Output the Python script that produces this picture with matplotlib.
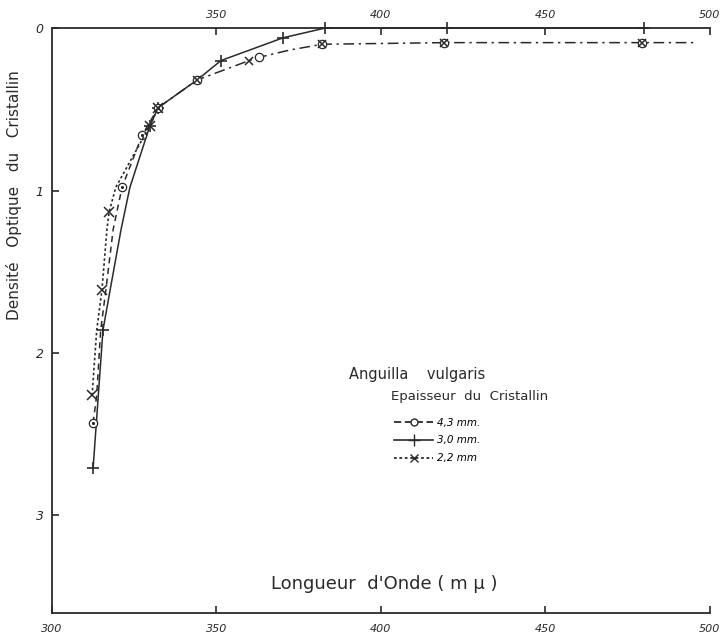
import matplotlib.pyplot as plt
from matplotlib.lines import Line2D

plt.rcParams['font.family'] = ['DejaVu Sans']

# 3.0 mm (+), trait plein
x_30 = [312.5, 315.5, 317.7, 321.0, 323.7, 329.8, 332.3, 344.1, 351.4, 370.3, 383.1, 420.0, 480.0]
y_30 = [2.71, 1.86, 1.61, 1.24, 0.98, 0.60, 0.49, 0.32, 0.20, 0.06, 0.00, 0.00, 0.00]
mark_30 = [0, 1, 5, 6, 8, 9, 10, 11, 12]

# 4.3 mm (o), tirets -- partie basse
x_43 = [312.5, 313.6, 314.8, 316.4, 318.6, 321.3, 327.4, 332.3]
y_43 = [2.43, 2.26, 1.86, 1.61, 1.24, 0.98, 0.66, 0.49]
mark_43 = [0, 5, 6, 7]

# 2.2 mm (x), pointillé -- partie basse
x_22 = [312.2, 313.6, 315.2, 316.7, 317.4, 319.4, 329.8, 332.3]
y_22 = [2.26, 1.86, 1.61, 1.24, 1.13, 0.98, 0.60, 0.49]
mark_22 = [0, 2, 4, 6, 7]

# partie commune 4.3 / 2.2 (trait mixte)
x_tail = [332.3, 344.1, 360.0, 363.0, 372.4, 382.2, 419.3, 479.3, 496.0]
y_tail = [0.49, 0.32, 0.20, 0.18, 0.135, 0.10, 0.09, 0.09, 0.09]
mark_tail_o = [1, 3, 5, 6, 7]
mark_tail_x = [1, 2, 5, 6, 7]

legend_labels = ['4,3 mm.', '3,0 mm.', '2,2 mm']

ink = '#2a2a2a'

fig = plt.figure(figsize=(7.28, 6.41), dpi=100)
ax = fig.add_axes([0.0714, 0.0437, 0.9036, 0.9126])

ax.plot(x_30, y_30, color=ink, ls='-', lw=1.1, marker='+', ms=9, mew=1.2,
        markevery=mark_30, clip_on=False)
ax.plot(x_43, y_43, color=ink, lw=1.1, ls=(0, (4, 3)), marker='o', ms=6,
        mfc='white', mew=0.9, markevery=mark_43)
ax.plot(x_43, y_43, ls='none', marker='.', ms=2.5, color=ink,
        markevery=mark_43)
ax.plot(x_22, y_22, color=ink, lw=1.2, ls=(0, (1.5, 1.5)), marker='x', ms=7,
        mew=1.1, markevery=mark_22)
ax.plot(x_tail, y_tail, color=ink, lw=1.1, ls=(0, (7, 3, 1.5, 3)))
ax.plot(x_tail, y_tail, ls='none', marker='o', ms=6, mfc='white', mew=0.9,
        color=ink, markevery=mark_tail_o)
ax.plot(x_tail, y_tail, ls='none', marker='x', ms=6, mew=1.1, color=ink,
        markevery=mark_tail_x)

ax.set_xlim(300, 500)
ax.set_ylim(3.6, 0)

for s in ['left', 'top', 'bottom']:
    ax.spines[s].set_color(ink)
    ax.spines[s].set_linewidth(1.3)
ax.spines['right'].set_visible(False)

ax.set_xticks([300, 350, 400, 450, 500])
ax.set_xticklabels(['300', '350', '400', '450', '500'], fontsize=8,
                   style='italic', color=ink)
ax.set_yticks([0, 1, 2, 3])
ax.set_yticklabels(['0', '1', '2', '3'], fontsize=9, style='italic', color=ink)
ax.tick_params(direction='in', length=5, width=1.2, colors=ink, pad=8)
ax.tick_params(axis='y', pad=6)

top = ax.secondary_xaxis('top')
top.set_xticks([350, 400, 450, 500])
top.set_xticklabels(['350', '400', '450', '500'], fontsize=8, style='italic',
                    color=ink)
top.tick_params(direction='in', length=5, width=1.2, colors=ink, pad=6)
top.spines['top'].set_visible(False)

fig.text(0.019, 0.695, 'Densité   Optique   du   Cristallin', rotation=90,
         ha='center', va='center', fontsize=11, color=ink)

ax.text(401, 3.42, "Longueur  d'Onde ( m μ )", ha='center', va='center',
        fontsize=13, color=ink)
ax.text(411, 2.13, 'Anguilla    vulgaris', ha='center', va='center',
        fontsize=10.5, color=ink)
ax.text(427, 2.27, 'Epaisseur  du  Cristallin', ha='center', va='center',
        fontsize=9.5, color=ink)

handles = [
    Line2D([], [], ls=(0, (4, 2)), color=ink, lw=1.3, marker='o', ms=5,
           mfc='white'),
    Line2D([], [], ls='-', color=ink, lw=1.2, marker='+', ms=9),
    Line2D([], [], ls=(0, (1.5, 1.5)), color=ink, lw=1.3, marker='x', ms=6),
]
ax.legend(handles, legend_labels, loc='center', bbox_to_anchor=(0.585, 0.295),
          frameon=False, handlelength=3.8, handletextpad=0.3,
          labelspacing=0.75, prop={'style': 'italic', 'size': 7.5})

fig.savefig('out.png', dpi=100)
